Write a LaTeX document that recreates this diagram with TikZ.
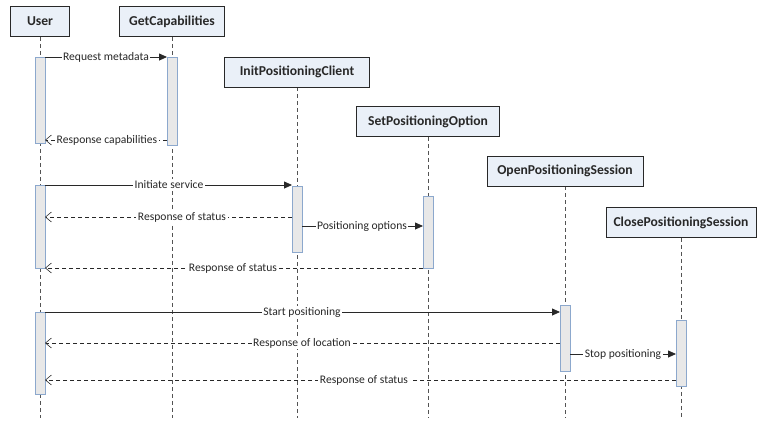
\documentclass[tikz,border=0pt]{standalone}
\usepackage{fontspec}
\setmainfont{Carlito}
\usepackage{tikz}
\usetikzlibrary{arrows.meta}
\pgfdeclarelayer{edgelayer}
\pgfdeclarelayer{nodelayer}
\pgfsetlayers{edgelayer,nodelayer,main}
\definecolor{headfill}{RGB}{234,240,248}
\definecolor{actfill}{RGB}{232,232,232}
\definecolor{actline}{RGB}{140,168,205}
\definecolor{ink}{RGB}{40,40,40}
\tikzstyle{none} = []
\tikzstyle{head} = [draw=ink, fill=headfill, line width=0.8pt, minimum height=30pt, inner sep=0pt, font=\fontsize{13.6}{15}\selectfont\bfseries, text=ink]
\tikzstyle{msg} = [fill=white, inner sep=1.5pt, font=\fontsize{11.6}{13}\selectfont, text=ink]
\tikzstyle{life} = [draw=ink!80, dash pattern=on 4pt off 3pt, line width=0.6pt]
\tikzstyle{activation} = [draw=actline, fill=actfill, line width=0.8pt]
\tikzstyle{call} = [draw=ink, line width=0.8pt, -{Triangle[length=8pt,width=7pt]}]
\tikzstyle{reply} = [draw=ink, line width=0.6pt, dash pattern=on 4pt off 3pt, -{Straight Barb[length=6pt,width=10pt]}]

\begin{document}
\begin{tikzpicture}[x=10pt, y=10pt]
	\useasboundingbox (0,0) rectangle (75.7,-42.4);
	\begin{pgfonlayer}{nodelayer}
		% lifeline heads
		\node [style=head, minimum width=59pt] (0) at (4.0, -2.15) {User};
		\node [style=head, minimum width=105pt] (1) at (17.2, -2.15) {GetCapabilities};
		\node [style=head, minimum width=145pt] (2) at (29.7, -7.2) {InitPositioningClient};
		\node [style=head, minimum width=143pt] (3) at (42.8, -12.15) {SetPositioningOption};
		\node [style=head, minimum width=156pt] (4) at (56.5, -17.1) {OpenPositioningSession};
		\node [style=head, minimum width=150pt] (5) at (68.1, -22.25) {ClosePositioningSession};
		% lifeline ends
		\node [style=none] (6) at (4.0, -41.8) {};
		\node [style=none] (7) at (17.2, -41.8) {};
		\node [style=none] (8) at (29.7, -41.8) {};
		\node [style=none] (9) at (42.8, -41.8) {};
		\node [style=none] (10) at (56.5, -41.8) {};
		\node [style=none] (11) at (68.1, -41.8) {};
		% activation corners
		\node [style=none] (12) at (3.5, -5.7) {};
		\node [style=none] (13) at (4.5, -14.3) {};
		\node [style=none] (14) at (16.7, -5.7) {};
		\node [style=none] (15) at (17.7, -14.5) {};
		\node [style=none] (16) at (3.5, -18.5) {};
		\node [style=none] (17) at (4.5, -26.8) {};
		\node [style=none] (18) at (29.2, -18.6) {};
		\node [style=none] (19) at (30.2, -25.2) {};
		\node [style=none] (20) at (42.3, -19.6) {};
		\node [style=none] (21) at (43.3, -26.8) {};
		\node [style=none] (22) at (3.5, -31.2) {};
		\node [style=none] (23) at (4.5, -39.4) {};
		\node [style=none] (24) at (56.0, -30.5) {};
		\node [style=none] (25) at (57.0, -37.1) {};
		\node [style=none] (26) at (67.6, -32.0) {};
		\node [style=none] (27) at (68.6, -38.6) {};
		% message ends
		\node [style=none] (30) at (4.5, -5.7) {};
		\node [style=none] (31) at (16.7, -5.7) {};
		\node [style=none] (32) at (16.7, -14.0) {};
		\node [style=none] (33) at (4.5, -14.0) {};
		\node [style=none] (34) at (4.5, -18.5) {};
		\node [style=none] (35) at (29.2, -18.5) {};
		\node [style=none] (36) at (29.2, -21.7) {};
		\node [style=none] (37) at (4.5, -21.7) {};
		\node [style=none] (38) at (30.2, -22.6) {};
		\node [style=none] (39) at (42.3, -22.6) {};
		\node [style=none] (40) at (42.3, -26.8) {};
		\node [style=none] (41) at (4.5, -26.8) {};
		\node [style=none] (42) at (4.5, -31.2) {};
		\node [style=none] (43) at (56.0, -31.2) {};
		\node [style=none] (44) at (56.0, -34.3) {};
		\node [style=none] (45) at (4.5, -34.3) {};
		\node [style=none] (46) at (57.0, -35.4) {};
		\node [style=none] (47) at (67.6, -35.4) {};
		\node [style=none] (48) at (67.6, -38.0) {};
		\node [style=none] (49) at (4.5, -38.0) {};
		% message texts
		\node [style=msg] (50) at (10.6, -5.7) {Request metadata};
		\node [style=msg] (51) at (10.7, -14.0) {Response capabilities};
		\node [style=msg] (52) at (16.9, -18.5) {Initiate service};
		\node [style=msg] (53) at (18.2, -21.7) {Response of status};
		\node [style=msg] (54) at (36.2, -22.6) {Positioning options};
		\node [style=msg] (55) at (23.3, -26.8) {Response of status};
		\node [style=msg] (56) at (30.2, -31.2) {Start positioning};
		\node [style=msg] (57) at (30.2, -34.3) {Response of location};
		\node [style=msg] (58) at (62.3, -35.4) {Stop positioning};
		\node [style=msg] (59) at (36.4, -38.0) {Response of status};
	\end{pgfonlayer}
	\begin{pgfonlayer}{edgelayer}
		\draw [style=life] (0) to (6.center);
		\draw [style=life] (1) to (7.center);
		\draw [style=life] (2) to (8.center);
		\draw [style=life] (3) to (9.center);
		\draw [style=life] (4) to (10.center);
		\draw [style=life] (5) to (11.center);
		\draw [style=activation] (12.center) rectangle (13.center);
		\draw [style=activation] (14.center) rectangle (15.center);
		\draw [style=activation] (16.center) rectangle (17.center);
		\draw [style=activation] (18.center) rectangle (19.center);
		\draw [style=activation] (20.center) rectangle (21.center);
		\draw [style=activation] (22.center) rectangle (23.center);
		\draw [style=activation] (24.center) rectangle (25.center);
		\draw [style=activation] (26.center) rectangle (27.center);
		\draw [style=call] (30.center) to (31.center);
		\draw [style=reply] (32.center) to (33.center);
		\draw [style=call] (34.center) to (35.center);
		\draw [style=reply] (36.center) to (37.center);
		\draw [style=call] (38.center) to (39.center);
		\draw [style=reply] (40.center) to (41.center);
		\draw [style=call] (42.center) to (43.center);
		\draw [style=reply] (44.center) to (45.center);
		\draw [style=call] (46.center) to (47.center);
		\draw [style=reply] (48.center) to (49.center);
	\end{pgfonlayer}
\end{tikzpicture}
\end{document}
